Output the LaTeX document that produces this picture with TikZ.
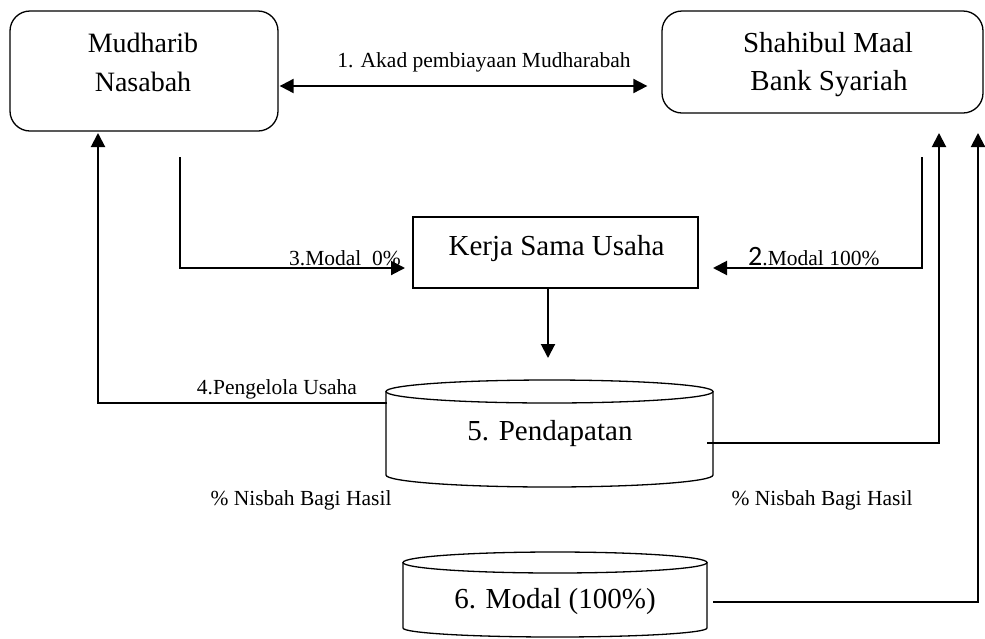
\documentclass[tikz,border=0pt]{standalone}
\usepackage{fontspec}
\setmainfont{Liberation Serif}
\newfontfamily\calib{Carlito}
\usetikzlibrary{arrows.meta}
\begin{document}
\begin{tikzpicture}[x=1pt,y=-1pt,
  box/.style={draw, line width=1.3pt},
  big/.style={font=\fontsize{29}{32}\selectfont, inner sep=0pt, anchor=base},
  small/.style={font=\fontsize{21.5}{24}\selectfont, inner sep=0pt, anchor=base},
  conn/.style={line width=2pt},
  tip/.style={-{Triangle[length=14pt,width=14pt]}},
]
\useasboundingbox (0,0) rectangle (985,638);
\fill[white] (0,0) rectangle (985,638);

% top boxes
\node[box, rounded corners=20pt, minimum width=268pt, minimum height=120pt, inner sep=0pt] (nas) at (144,71) {};
\node[box, rounded corners=20pt, minimum width=321pt, minimum height=102pt, inner sep=0pt] (bank) at (822.5,62) {};
\node[big, font=\fontsize{28}{32}\selectfont] (t1) at (143,52) {Mudharib};
\node[big, font=\fontsize{28}{32}\selectfont] (t2) at (143,91) {Nasabah};
\node[big] (t3) at (828,52) {Shahibul Maal};
\node[big] (t4) at (829,90) {Bank Syariah};

% arrow 1
\coordinate (a1) at (0,86);
\draw[conn, {Triangle[length=14pt,width=14pt]}-{Triangle[length=14pt,width=14pt]}, shorten <=1pt, shorten >=14pt] (nas.east |- a1) -- (bank.west |- a1);
\node[small] (l1) at (484,67) {1. Akad pembiayaan Mudharabah};

% Kerja Sama Usaha
\node[box, minimum width=285pt, minimum height=71pt, inner sep=0pt] (ksu) at (555.5,252.5) {};
\node[big] (t5) at (556.5,255) {Kerja Sama Usaha};

\coordinate (c3) at (180,157);
\coordinate (e3) at (405,268);
\draw[conn, tip] (c3) |- (e3);
\node[small, anchor=base east] (l3) at (401,265) {3.Modal\ \ 0\%};

\coordinate (c2) at (922,157);
\coordinate (e2) at (713,268);
\draw[conn, tip] (c2) |- (e2);
\node[small, anchor=base west] (l2) at (748,265) {{\calib\fontsize{28}{28}\selectfont 2}.Modal 100\%};

% down arrow
\coordinate (d1) at (548,0);
\coordinate (d2) at (548,358);
\draw[conn, tip] (ksu.south -| d1) -- (d2);

% cylinder 5
\draw[box] (549.5,391.5) ellipse [x radius=163.5pt, y radius=11.5pt];
\draw[box] (386,391.5) -- (386,475) arc[start angle=180, end angle=360, x radius=163.5pt, y radius=12pt] -- (713,391.5);
\node[big] (t6) at (550,440) {5. Pendapatan};

% cylinder 6
\draw[box] (555,562.5) ellipse [x radius=152pt, y radius=10.5pt];
\draw[box] (403,562.5) -- (403,628) arc[start angle=180, end angle=360, x radius=152pt, y radius=9pt] -- (707,562.5);
\node[big] (t7) at (555,608) {6. Modal (100\%)};

% connectors from cylinders
\coordinate (p5w) at (387,403);
\coordinate (u4) at (98,133);
\draw[conn, tip] (p5w) -| (u4);
\node[small] (l4) at (277,394) {4.Pengelola Usaha};

\coordinate (p5e) at (707,443);
\coordinate (u5) at (939,133);
\draw[conn, tip] (p5e) -| (u5);

\coordinate (p6e) at (713,602);
\coordinate (u6) at (978,133);
\draw[conn, tip] (p6e) -| (u6);

\node[small] (n1) at (301,505) {\% Nisbah Bagi Hasil};
\node[small] (n2) at (822,505) {\% Nisbah Bagi Hasil};
\end{tikzpicture}
\end{document}
